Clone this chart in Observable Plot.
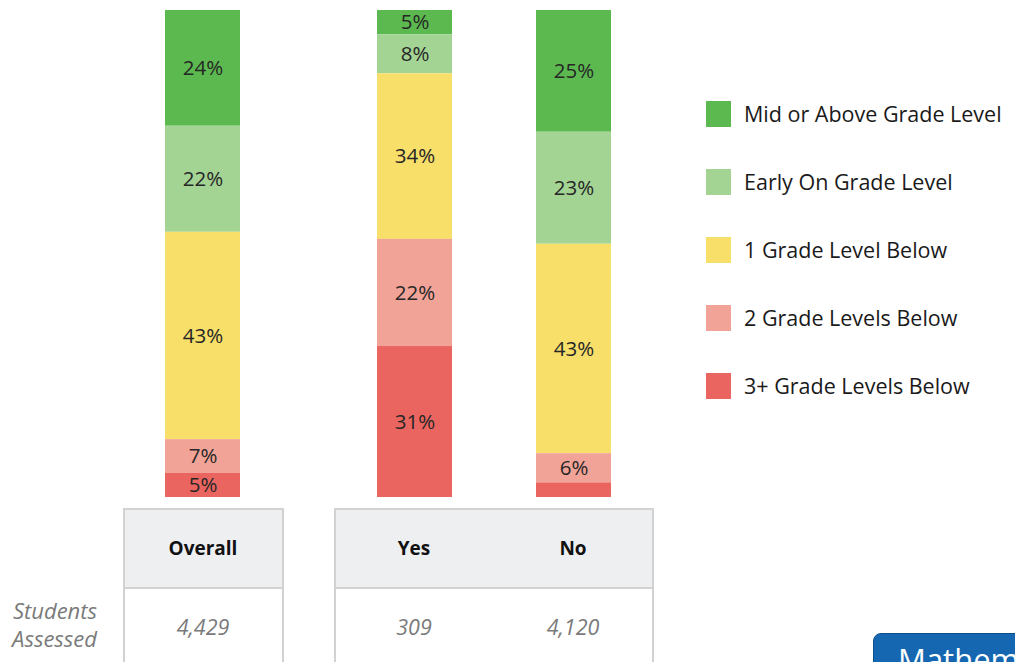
<!DOCTYPE html>
<html>
<head>
<meta charset="utf-8">
<script src="https://cdn.jsdelivr.net/npm/d3@7"></script>
<script src="https://cdn.jsdelivr.net/npm/@observablehq/plot@0.6"></script>
<style>
  html, body { margin: 0; padding: 0; background: #fff; }
  body { width: 1015px; height: 662px; overflow: hidden; position: relative; font-family: "Open Sans", sans-serif; }
  .abs { position: absolute; overflow: visible; }
  .box { position: absolute; top: 508px; height: 170px; border: 2px solid #d2d2d2; box-sizing: border-box; background: #fff; }
  .hdr { position: absolute; left: 0; right: 0; top: 0; height: 77px; background: #eeeff1; border-bottom: 2px solid #d2d2d2; }
  .cell { position: absolute; width: 160px; text-align: center; }
  .hcell { top: 0; height: 77px; line-height: 77px; font-weight: bold; font-size: 19px; color: #111; }
  .vcell { top: 79px; height: 76px; line-height: 76px; font-style: italic; font-size: 21.5px; color: #7a7a7a; }
  .legrow { position: absolute; left: 706px; height: 26px; }
  .sw { position: absolute; left: 0; top: 0; width: 25px; height: 26px; }
  .lt { position: absolute; left: 38px; top: 0; height: 26px; line-height: 26px; font-size: 21.5px; color: #1a1a1a; white-space: nowrap; }
  .stud { position: absolute; right: 918px; top: 596px; text-align: right; font-style: italic; font-size: 22px; line-height: 28px; color: #7a7a7a; }
  .btn { position: absolute; left: 873px; top: 633px; width: 200px; height: 60px; background: #1467b0; border-radius: 8px; border: 1px solid #0d4f8a; box-sizing: border-box; color: #fff; font-size: 31px; line-height: 50px; padding-left: 24px; }
</style>
</head>
<body>
<div id="root"></div>
<script>
const groups = ["Overall", "Yes", "No"];
const levels = ["Mid or Above Grade Level", "Early On Grade Level", "1 Grade Level Below", "2 Grade Levels Below", "3+ Grade Levels Below"];
const colors = ["#5cb950", "#a3d494", "#f7df6a", "#f2a398", "#eb6560"];
const overallValues = [24, 22, 43, 7, 5];
const yesValues = [5, 8, 34, 22, 31];
const noValues = [25, 23, 43, 6, 3];
const studentsAssessed = ["4,429", "309", "4,120"];
const rowLabel = ["Students", "Assessed"];
const buttonLabel = "Mathematics";

const valuesByGroup = {Overall: overallValues, Yes: yesValues, No: noValues};
const data = [];
for (const g of groups) {
  valuesByGroup[g].forEach((v, i) => data.push({group: g, level: levels[i], value: v}));
}
const stackOrder = levels.slice().reverse();

function makePlot(domain, width) {
  const rows = data.filter(d => domain.includes(d.group));
  return Plot.plot({
    width, height: 507,
    marginTop: 10, marginBottom: 10, marginLeft: 0, marginRight: 0,
    style: {background: "transparent", fontFamily: "Open Sans", overflow: "visible"},
    x: {domain, type: "band", paddingInner: 0.531, paddingOuter: 0.2655, axis: null},
    y: {domain: [0, 1], axis: null},
    color: {domain: levels, range: colors},
    marks: [
      Plot.barY(rows, {x: "group", y: "value", fill: "level", order: stackOrder, offset: "normalize"}),
      Plot.text(rows, Plot.stackY({x: "group", y: "value", z: "level", order: stackOrder, offset: "normalize",
        text: d => d.value >= 4 ? d.value + "%" : null,
        fill: "#262626", fontSize: 20.5, fontFamily: "Open Sans"}))
    ]
  });
}

const root = document.getElementById("root");
const p1 = makePlot(["Overall"], 160);
p1.classList.add("abs"); p1.style.left = "123px"; p1.style.top = "0px";
const p2 = makePlot(["Yes", "No"], 319);
p2.classList.add("abs"); p2.style.left = "334px"; p2.style.top = "0px";
root.appendChild(p1); root.appendChild(p2);

// table boxes
function makeBox(left, width, idxs) {
  const box = document.createElement("div");
  box.className = "box";
  box.style.left = left + "px"; box.style.width = width + "px";
  const hdr = document.createElement("div"); hdr.className = "hdr"; box.appendChild(hdr);
  idxs.forEach((gi, k) => {
    const h = document.createElement("div"); h.className = "cell hcell";
    h.style.left = (k * 159 - 2) + "px"; h.textContent = groups[gi]; box.appendChild(h);
    const v = document.createElement("div"); v.className = "cell vcell";
    v.style.left = (k * 159 - 2) + "px"; v.textContent = studentsAssessed[gi]; box.appendChild(v);
  });
  root.appendChild(box);
}
makeBox(123, 161, [0]);
makeBox(334, 320, [1, 2]);

const stud = document.createElement("div"); stud.className = "stud";
stud.innerHTML = rowLabel.join("<br>");
root.appendChild(stud);

// legend
levels.forEach((lv, i) => {
  const row = document.createElement("div"); row.className = "legrow";
  row.style.top = (101 + i * 68) + "px";
  const sw = document.createElement("div"); sw.className = "sw"; sw.style.background = colors[i];
  const t = document.createElement("div"); t.className = "lt"; t.textContent = lv;
  row.appendChild(sw); row.appendChild(t); root.appendChild(row);
});

const btn = document.createElement("div"); btn.className = "btn"; btn.textContent = buttonLabel;
root.appendChild(btn);
</script>
</body>
</html>
